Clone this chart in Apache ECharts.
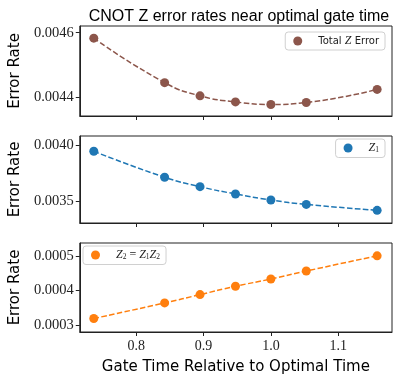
<!DOCTYPE html>
<html>
<head>
<meta charset="utf-8">
<title>CNOT Z error rates</title>
<script src="https://cdn.jsdelivr.net/npm/echarts@6/dist/echarts.min.js"></script>
<style>
	html, body { margin: 0; padding: 0; background: #fff; }
	#main { width: 399px; height: 381px; }
</style>
</head>
<body>
<div id="main"></div>
<script>
// gate time relative to optimal (same for all three panels)
var gateTimes = [0.7368, 0.8421, 0.8947, 0.9474, 1.0, 1.0526, 1.1579];
// total Z error
var totalZ = [0.004583, 0.004444, 0.004403, 0.004384, 0.004376, 0.004382, 0.004423];
// Z1
var z1 = [0.003944, 0.003712, 0.003628, 0.003563, 0.003509, 0.003470, 0.003417];
// Z2 = Z1Z2
var z2 = [0.000319, 0.000364, 0.000388, 0.000412, 0.000433, 0.000456, 0.000500];
// tick labels
var xTicks = [0.8, 0.9, 1.0, 1.1];
var yTicks1 = [0.0044, 0.0046];
var yTicks2 = [0.0035, 0.0040];
var yTicks3 = [0.0003, 0.0004, 0.0005];

var sans = 'DejaVu Sans', serif = 'Liberation Serif';
var axisCol = '#222';

function pairs(ys) {
	return gateTimes.map(function(x, i) { return [x, ys[i]]; });
}

function init() {
	var myChart = echarts.init(document.getElementById('main'), null, {renderer: 'canvas'});

	var grids = [
		{left: 77, right: 7, top: 26, height: 90},
		{left: 77, right: 7, top: 136, height: 87},
		{left: 77, right: 7, top: 243, height: 89}
	];
	grids.forEach(function(g) {
		g.show = true;
		g.borderColor = axisCol;
		g.borderWidth = 1;
	});

	// x轴
	var xAxes = [0, 1, 2].map(function(i) {
		return {
			type: 'value',
			gridIndex: i,
			min: 0.716,
			max: 1.180,
			name: i === 2 ? 'Gate Time Relative to Optimal Time' : '',
			nameLocation: 'middle',
			nameGap: 28,
			nameTextStyle: {fontFamily: sans, fontSize: 15, color: '#000'},
			axisLine: {show: true, onZero: false, lineStyle: {color: axisCol}},
			axisTick: {show: true, length: 4, customValues: xTicks, lineStyle: {color: axisCol}},
			axisLabel: {
				show: i === 2,
				customValues: xTicks,
				margin: 7,
				fontFamily: serif,
				fontSize: 14,
				color: '#222',
				formatter: function(v) { return v.toFixed(1); }
			},
			splitLine: {show: false}
		};
	});

	// y轴
	var yRanges = [[0.00434, 0.004621, yTicks1, 4], [0.003304, 0.004080, yTicks2, 4], [0.000280, 0.000537, yTicks3, 4]];
	var yAxes = yRanges.map(function(r, i) {
		return {
			type: 'value',
			gridIndex: i,
			min: r[0],
			max: r[1],
			name: 'Error Rate',
			nameLocation: 'middle',
			nameGap: 56,
			nameTextStyle: {fontFamily: sans, fontSize: 15, color: '#000'},
			axisLine: {show: true, lineStyle: {color: axisCol}},
			axisTick: {show: true, length: 4, customValues: r[2], lineStyle: {color: axisCol}},
			axisLabel: {
				customValues: r[2],
				margin: 6,
				fontFamily: serif,
				fontSize: 14.5,
				color: '#222',
				formatter: function(v) { return v.toFixed(r[3]); }
			},
			splitLine: {show: false}
		};
	});

	var rich = {
		t: {fontFamily: sans, fontSize: 10, color: '#222'},
		z: {fontFamily: serif, fontStyle: 'italic', fontSize: 12, color: '#222'},
		s: {fontFamily: serif, fontSize: 7.5, color: '#222', padding: [5, 0, 0, 0]},
		e: {fontFamily: serif, fontSize: 12, color: '#222'}
	};

	function legendBox(name, pos) {
		var l = {
			data: [name],
			orient: 'horizontal',
			icon: 'circle',
			itemWidth: 9,
			itemHeight: 9,
			padding: [3, 6, 3, 8],
			borderColor: '#d0d0d0',
			borderWidth: 1,
			borderRadius: 3,
			backgroundColor: 'rgba(255,255,255,0.8)',
			selectedMode: false,
			textStyle: {padding: [0, 0, 0, 11], rich: rich},
			formatter: function(n) {
				if (n === 'Total Z Error') return '{t|Total }{z|Z}{t| Error}';
				if (n === 'Z1') return '{z|Z}{s|1}';
				return '{z|Z}{s|2}{e| = }{z|Z}{s|1}{z|Z}{s|2}';
			}
		};
		for (var k in pos) l[k] = pos[k];
		return l;
	}

	function makeSeries(name, ys, idx, color) {
		return {
			name: name,
			type: 'line',
			xAxisIndex: idx,
			yAxisIndex: idx,
			data: pairs(ys),
			smooth: true,
			symbol: 'circle',
			symbolSize: 9,
			itemStyle: {color: color},
			lineStyle: {color: color, width: 1.5, type: [5.5, 2.4]},
			emphasis: {disabled: true},
			animation: false
		};
	}

	var option = {
		backgroundColor: '#fff',
		animation: false,
		title: {
			text: 'CNOT Z error rates near optimal gate time',
			left: 234,
			top: 4,
			textAlign: 'center',
			textStyle: {fontFamily: 'Liberation Sans', fontSize: 16, fontWeight: 'normal', color: '#000'}
		},
		grid: grids,
		xAxis: xAxes,
		yAxis: yAxes,
		legend: [
			legendBox('Total Z Error', {right: 14, top: 32}),
			legendBox('Z1', {right: 14, top: 139}),
			legendBox('Z2 = Z1Z2', {left: 83, top: 246})
		],
		series: [
			makeSeries('Total Z Error', totalZ, 0, '#8c564b'),
			makeSeries('Z1', z1, 1, '#1f77b4'),
			makeSeries('Z2 = Z1Z2', z2, 2, '#ff7f0e')
		]
	};

	myChart.setOption(option);
}

init();
</script>
</body>
</html>
